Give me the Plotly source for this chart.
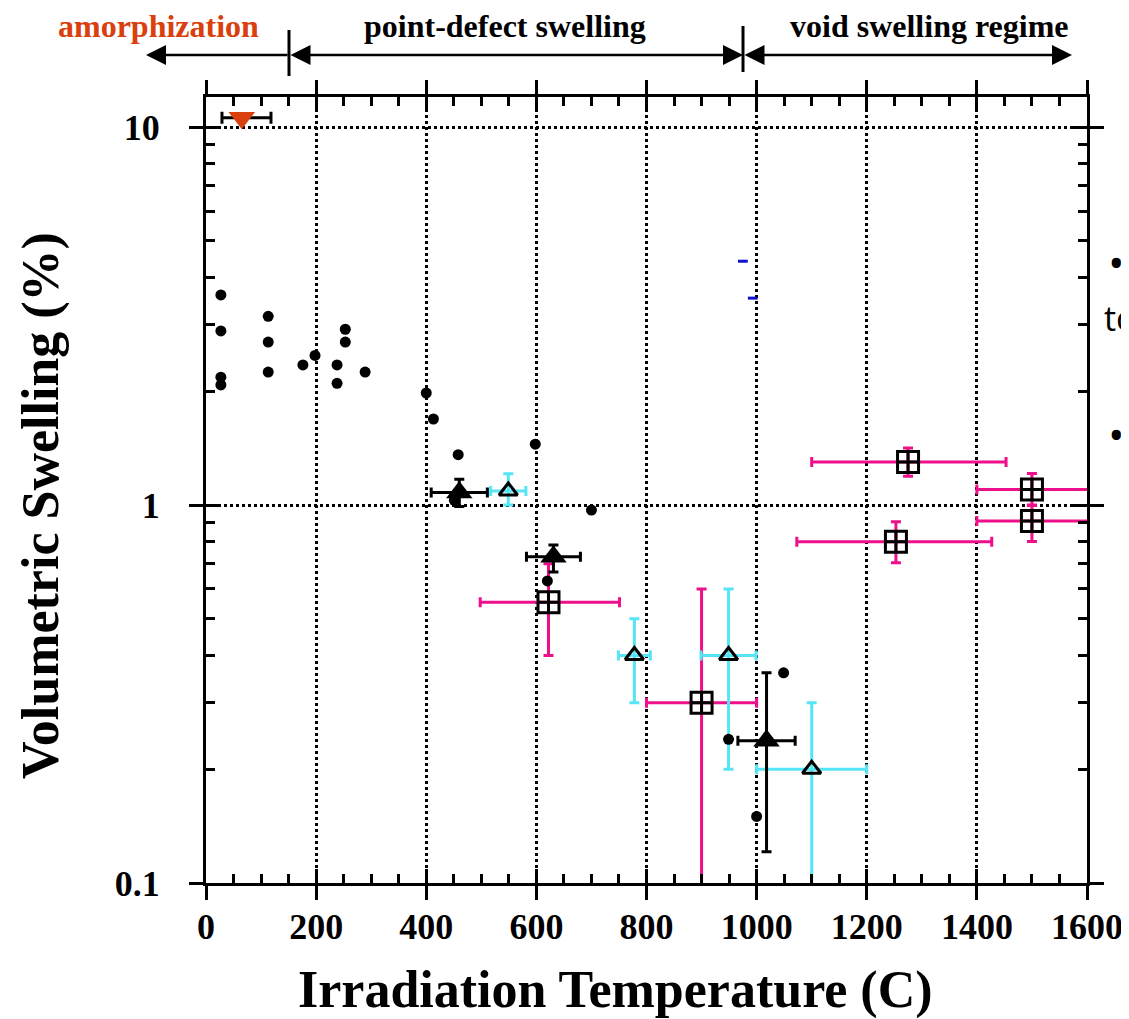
import plotly.graph_objects as go

# ---------------- data ----------------
# small black dots (individual measurements)
dot_T = [27, 27, 27, 27, 113, 113, 113, 176, 198, 238, 238, 253, 253, 289,
         400, 413, 458, 451, 598, 620, 700, 949, 1000, 1049]
dot_S = [3.6, 2.89, 2.18, 2.08, 3.16, 2.70, 2.25, 2.35, 2.49, 2.35, 2.10, 2.92, 2.70, 2.25,
         1.98, 1.69, 1.36, 1.03, 1.45, 0.63, 0.97, 0.24, 0.15, 0.36]

# filled black triangles
tri_T = [460, 631, 1018]
tri_S = [1.08, 0.73, 0.238]
tri_Terr = [51, 49, 52]
tri_Splus = [0.09, 0.054, 0.122]
tri_Sminus = [0.088, 0.065, 0.117]

# open triangles with cyan error bars
otri_T = [549, 778, 949, 1100]
otri_S = [1.09, 0.40, 0.40, 0.20]
otri_Terr = [32, 29, 50, 100]
otri_Splus = [0.12, 0.10, 0.20, 0.10]
otri_Sminus = [0.09, 0.10, 0.20, 0.11]

# crossed squares with magenta error bars
sq_T = [622, 900, 1275, 1253, 1500, 1500]
sq_S = [0.553, 0.30, 1.30, 0.80, 1.10, 0.908]
sq_Tminus = [124, 100, 175, 180, 100, 100]
sq_Tplus = [129, 100, 178, 174, 120, 120]
sq_Splus = [0.147, 0.30, 0.116, 0.104, 0.112, 0.09]
sq_Sminus = [0.153, 0.21, 0.107, 0.096, 0.10, 0.107]

# amorphization point
am_T = [65]
am_S = [10.6]
am_Tminus = [36]
am_Tplus = [53]

# small blue fragments
blue_T = [975, 993]
blue_S = [4.42, 3.53]

x_ticks = [0, 200, 400, 600, 800, 1000, 1200, 1400, 1600]
y_ticks = [0.1, 1, 10]
y_ticklabels = ["0.1", "1", "10"]
y_minor = [0.2, 0.3, 0.4, 0.5, 0.6, 0.7, 0.8, 0.9, 2, 3, 4, 5, 6, 7, 8, 9]

# ---------------- styling ----------------
SERIF = "Liberation Serif"
PINK = "#EE0F8A"
CYAN = "#55E5F7"
ORANGE = "#D9400D"

W, H = 1129, 1019
L, R, T, B = 206, 42, 97, 136      # plot area as seen on the page
OFF = 8                             # default page body margin
PW, PH = W - L - R, H - T - B


def px_x(p):
    return (p - L) / PW


def px_y(p):
    return (H - B - p) / PH


fig = go.Figure()

fig.add_trace(go.Scatter(
    x=sq_T, y=sq_S, mode="markers",
    marker=dict(symbol="square-cross-open", size=21, color="black", line=dict(width=3, color="black")),
    error_x=dict(type="data", symmetric=False, array=sq_Tplus, arrayminus=sq_Tminus,
                 color=PINK, thickness=3, width=5),
    error_y=dict(type="data", symmetric=False, array=sq_Splus, arrayminus=sq_Sminus,
                 color=PINK, thickness=3, width=5),
    showlegend=False))

fig.add_trace(go.Scatter(
    x=otri_T, y=otri_S, mode="markers",
    marker=dict(symbol="triangle-up-open", size=16, color="black", line=dict(width=3, color="black")),
    error_x=dict(type="data", array=otri_Terr, color=CYAN, thickness=3, width=5),
    error_y=dict(type="data", symmetric=False, array=otri_Splus, arrayminus=otri_Sminus,
                 color=CYAN, thickness=3, width=5),
    showlegend=False))

fig.add_trace(go.Scatter(
    x=tri_T, y=tri_S, mode="markers",
    marker=dict(symbol="triangle-up", size=23, color="black"),
    error_x=dict(type="data", array=tri_Terr, color="black", thickness=3, width=5),
    error_y=dict(type="data", symmetric=False, array=tri_Splus, arrayminus=tri_Sminus,
                 color="black", thickness=3, width=5),
    showlegend=False))

fig.add_trace(go.Scatter(
    x=dot_T, y=dot_S, mode="markers",
    marker=dict(symbol="circle", size=11, color="black"),
    showlegend=False))

fig.add_trace(go.Scatter(
    x=am_T, y=am_S, mode="markers",
    marker=dict(symbol="triangle-down", size=23, color=ORANGE),
    error_x=dict(type="data", symmetric=False, array=am_Tplus, arrayminus=am_Tminus,
                 color="black", thickness=3, width=6),
    showlegend=False))

fig.add_trace(go.Scatter(
    x=blue_T, y=blue_S, mode="markers", xaxis="x2", yaxis="y2",
    marker=dict(symbol="line-ew", size=7, color="#1010CC", line=dict(width=3, color="#1010CC")),
    showlegend=False))

tickfont = dict(family=SERIF, size=36, color="black", weight="bold")
titlefont = dict(family=SERIF, size=52, color="black", weight="bold")
grid = dict(showgrid=True, gridcolor="black", griddash="dot", gridwidth=3)

fig.update_layout(
    width=W, height=H, autosize=False,
    margin=dict(l=L - OFF, r=R + OFF, t=T - OFF, b=B + OFF),
    paper_bgcolor="white", plot_bgcolor="white",
    xaxis=dict(range=[0, 1600], tickvals=x_ticks, ticks="outside", ticklen=14, tickwidth=3,
               tickcolor="black", showline=True, linewidth=3, linecolor="black", mirror="allticks",
               zeroline=False, tickfont=tickfont, ticklabelstandoff=-4, **grid),
    yaxis=dict(type="log", range=[-1, 1.08], tickvals=y_ticks, ticktext=y_ticklabels,
               ticks="outside", ticklen=14, tickwidth=3, tickcolor="black",
               showline=True, linewidth=3, linecolor="black", mirror="allticks",
               zeroline=False, tickfont=tickfont, ticklabelstandoff=22, **grid),
    xaxis2=dict(overlaying="x", anchor="y2", range=[0, 1600], tickvals=x_ticks,
                ticks="inside", ticklen=14, tickwidth=3, tickcolor="black",
                minor=dict(ticks="inside", ticklen=9, tickwidth=3, tickcolor="black", dtick=50, showgrid=False),
                showticklabels=False, showline=False, showgrid=False, zeroline=False, mirror="allticks"),
    yaxis2=dict(overlaying="y", anchor="x2", type="log", range=[-1, 1.08], tickvals=y_ticks,
                ticks="inside", ticklen=14, tickwidth=3, tickcolor="black",
                minor=dict(ticks="inside", ticklen=9, tickwidth=3, tickcolor="black",
                           tickmode="array", tickvals=y_minor, showgrid=False),
                showticklabels=False, showline=False, showgrid=False, zeroline=False, mirror="allticks"),
)

# ---------------- axis titles ----------------
fig.add_annotation(xref="paper", yref="paper", x=px_x(615), y=px_y(990), text="Irradiation Temperature (C)",
                   showarrow=False, xanchor="center", yanchor="middle", font=titlefont)
fig.add_annotation(xref="paper", yref="paper", x=px_x(41), y=px_y(506), text="Volumetric Swelling (%)",
                   textangle=-90, showarrow=False, xanchor="center", yanchor="middle", font=titlefont)

# ---------------- top regime annotations ----------------
lab_font = dict(family=SERIF, size=32, color="black", weight="bold")
yarrow = px_y(55)
anns = [
    dict(text="amorphization", x=px_x(158), y=px_y(26), font=dict(family=SERIF, size=32, color=ORANGE, weight="bold")),
    dict(text="point-defect swelling", x=px_x(505), y=px_y(26), font=lab_font),
    dict(text="void swelling regime", x=px_x(929), y=px_y(26), font=lab_font),
]
for a in anns:
    fig.add_annotation(xref="paper", yref="paper", showarrow=False, xanchor="center", yanchor="middle", **a)

arrows = [
    (146, 289 - 146, "end"),
    (743, 289 - 743, "end+start"),
    (1072, 743 - 1072, "end+start"),
]
for head, dx, side in arrows:
    fig.add_annotation(xref="paper", yref="paper", x=px_x(head), y=yarrow, ax=dx, ay=0,
                       axref="pixel", ayref="pixel", text="", showarrow=True, arrowhead=2,
                       arrowside=side, arrowsize=1.6, arrowwidth=2.5, arrowcolor="black",
                       standoff=0, startstandoff=0)

for xb, y0, y1 in [(289, 30, 76), (743, 26, 72)]:
    fig.add_shape(type="line", xref="paper", yref="paper", x0=px_x(xb), x1=px_x(xb),
                  y0=px_y(y0), y1=px_y(y1), line=dict(color="black", width=3))

# white patches interrupting gridlines
for x0, x1, y0, y1 in [(752, 762, 237, 330), (422, 432, 443, 465)]:
    fig.add_shape(type="rect", xref="paper", yref="paper", x0=px_x(x0), x1=px_x(x1),
                  y0=px_y(y1), y1=px_y(y0), line=dict(width=0), fillcolor="white", layer="between")

# clipped legend fragments at the right edge
for txt, xx, yy, sz in [("•", 1106, 262, 44), ("to", 1102, 318, 34), ("•", 1106, 434, 44)]:
    fig.add_annotation(xref="paper", yref="paper", x=px_x(xx), y=px_y(yy), text=txt,
                       showarrow=False, xanchor="left", yanchor="middle",
                       font=dict(family="Open Sans", size=sz, color="black"))

fig.write_html("out.html")
